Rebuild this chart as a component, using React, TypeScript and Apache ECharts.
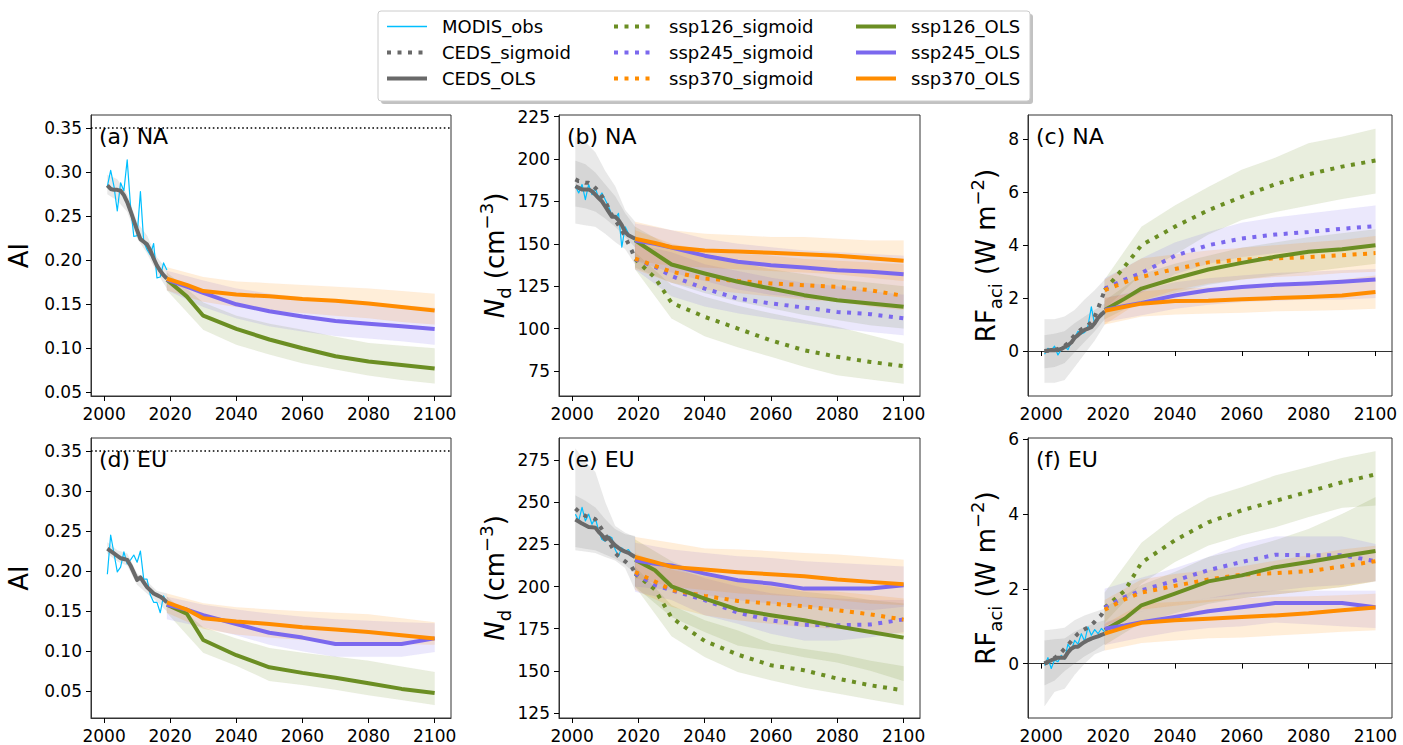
import React, { useEffect, useRef } from 'react';
import * as echarts from 'echarts';

const FONT = 'DejaVu Sans';
const GREEN = '#6B8E23';
const PURPLE = '#7B68EE';
const ORANGE = '#FF8C00';
const GRAY = '#696969';
const BLUE = '#00BFFF';

const X_TICKS = [2000, 2020, 2040, 2060, 2080, 2100];
const AI_TICKS = [0.05, 0.1, 0.15, 0.2, 0.25, 0.3, 0.35];
const B_TICKS = [75, 100, 125, 150, 175, 200, 225];
const C_TICKS = [0, 2, 4, 6, 8];
const E_TICKS = [125, 150, 175, 200, 225, 250, 275];
const F_TICKS = [0, 2, 4, 6];

const OBS_YEARS = [2001, 2002, 2003, 2004, 2005, 2006, 2007, 2008, 2009, 2010, 2011, 2012, 2013, 2014, 2015, 2016, 2017, 2018, 2019];
const CEDS_BAND_YEARS = [2001, 2004, 2007, 2010, 2013, 2016, 2019];
const PROJ_YEARS = [2019, 2025, 2030, 2040, 2050, 2060, 2070, 2080, 2090, 2100];
const BAND_YEARS = [2019, 2030, 2040, 2050, 2060, 2070, 2080, 2090, 2100];

// ---------- (a) NA, AI ----------
const A_MODIS = [0.284, 0.302, 0.284, 0.256, 0.288, 0.279, 0.314, 0.262, 0.227, 0.228, 0.278, 0.221, 0.212, 0.206, 0.219, 0.180, 0.181, 0.197, 0.189];
const A_CEDS_OLS = [0.285, 0.281, 0.280, 0.280, 0.279, 0.274, 0.266, 0.256, 0.245, 0.234, 0.224, 0.221, 0.218, 0.211, 0.202, 0.194, 0.188, 0.183, 0.179];
const A_CEDS_LO = [0.275, 0.268, 0.255, 0.225, 0.208, 0.186, 0.168];
const A_CEDS_HI = [0.297, 0.292, 0.275, 0.243, 0.228, 0.203, 0.190];
const A_OLS126 = [0.178, 0.159, 0.137, 0.122, 0.110, 0.100, 0.091, 0.085, 0.081, 0.077];
const A_OLS245 = [0.178, 0.170, 0.163, 0.150, 0.142, 0.136, 0.131, 0.128, 0.125, 0.122];
const A_OLS370 = [0.179, 0.172, 0.165, 0.161, 0.159, 0.156, 0.154, 0.151, 0.147, 0.143];
const A_B126_LO = [0.166, 0.121, 0.104, 0.093, 0.083, 0.076, 0.069, 0.064, 0.060];
const A_B126_HI = [0.186, 0.152, 0.137, 0.128, 0.121, 0.113, 0.106, 0.103, 0.100];
const A_B245_LO = [0.166, 0.147, 0.134, 0.125, 0.119, 0.114, 0.111, 0.108, 0.104];
const A_B245_HI = [0.188, 0.177, 0.168, 0.162, 0.158, 0.155, 0.152, 0.149, 0.146];
const A_B370_LO = [0.166, 0.153, 0.147, 0.143, 0.140, 0.137, 0.134, 0.130, 0.127];
const A_B370_HI = [0.192, 0.181, 0.176, 0.174, 0.172, 0.170, 0.168, 0.165, 0.162];

// ---------- (d) EU, AI ----------
const D_MODIS = [0.196, 0.245, 0.222, 0.199, 0.205, 0.224, 0.209, 0.214, 0.220, 0.211, 0.225, 0.190, 0.190, 0.170, 0.161, 0.161, 0.148, 0.169, 0.160];
const D_CEDS_OLS = [0.228, 0.225, 0.222, 0.219, 0.216, 0.215, 0.214, 0.207, 0.198, 0.189, 0.192, 0.186, 0.180, 0.176, 0.172, 0.170, 0.168, 0.165, 0.161];
const D_CEDS_LO = [0.222, 0.212, 0.207, 0.183, 0.172, 0.162, 0.150];
const D_CEDS_HI = [0.236, 0.226, 0.222, 0.197, 0.187, 0.175, 0.172];
const D_OLS126 = [0.158, 0.147, 0.114, 0.095, 0.080, 0.073, 0.067, 0.060, 0.053, 0.048];
const D_OLS245 = [0.158, 0.152, 0.145, 0.134, 0.123, 0.117, 0.109, 0.109, 0.109, 0.116];
const D_OLS370 = [0.161, 0.152, 0.141, 0.137, 0.134, 0.130, 0.127, 0.124, 0.120, 0.116];
const D_B126_LO = [0.148, 0.098, 0.082, 0.063, 0.058, 0.052, 0.045, 0.039, 0.033];
const D_B126_HI = [0.168, 0.130, 0.116, 0.104, 0.098, 0.093, 0.088, 0.081, 0.074];
const D_B245_LO = [0.140, 0.130, 0.120, 0.108, 0.100, 0.093, 0.093, 0.093, 0.099];
const D_B245_HI = [0.168, 0.158, 0.152, 0.147, 0.143, 0.140, 0.138, 0.136, 0.135];
const D_B370_LO = [0.148, 0.128, 0.121, 0.117, 0.114, 0.112, 0.110, 0.109, 0.108];
const D_B370_HI = [0.172, 0.160, 0.155, 0.152, 0.150, 0.148, 0.146, 0.141, 0.136];

// ---------- (b) NA, Nd ----------
const B_MODIS = [184, 180, 185, 176, 185, 179, 183, 177, 180, 176, 172, 167, 165, 168, 148, 160, 156, 154, 152];
const B_CEDS_OLS = [184, 183, 182, 182, 182, 181, 179, 177, 175, 172, 169, 166, 166, 164, 161, 157, 155, 154, 153];
const B_CEDS_SIG = [188, 187, 187, 186, 186, 185, 183, 181, 178, 175, 171, 167, 164, 161, 158, 154, 150, 146, 141];
const B_CEDS_SIG_LO = [162, 161, 160, 156, 151, 147, 138];
const B_CEDS_SIG_HI = [213, 210, 204, 193, 184, 170, 163];
const B_CEDS_OLS_LO = [172, 171, 169, 165, 160, 154, 148];
const B_CEDS_OLS_HI = [199, 197, 192, 185, 178, 168, 160];
const B_OLS126 = [152, 144.3, 137.8, 132.5, 127.6, 123.6, 119.7, 116.7, 114.8, 112.8];
const B_OLS245 = [152, 150, 147.8, 143, 139.4, 137.4, 136, 134.4, 133.5, 132];
const B_OLS370 = [153, 150.5, 148, 146, 145.5, 144.7, 143.8, 143, 141.5, 140];
const B_SIG126 = [141, 130, 115.2, 106.9, 100, 93, 87.2, 83.3, 80.3, 77.8];
const B_SIG245 = [141, 136.4, 131, 123.6, 117.7, 114.8, 112.4, 109.8, 108.5, 106];
const B_SIG370 = [141.3, 137, 133.5, 129.5, 128.1, 126.6, 125.6, 124.6, 122.6, 119.3];
const B_BS126_LO = [135, 106, 95.5, 89, 83.3, 77.5, 72.4, 70, 67.5];
const B_BS126_HI = [145, 125.6, 118.7, 113.5, 109, 105, 101, 96, 91];
const B_BO126_LO = [136, 127, 121, 116, 112, 108, 105, 102, 100];
const B_BO126_HI = [160, 148, 143, 139, 135, 132, 129, 127, 125];
const B_BS245_LO = [135, 119, 113, 109, 106, 103, 100, 98, 96];
const B_BS245_HI = [150, 145, 138, 134, 130, 127, 125, 122, 120];
const B_BO245_LO = [140, 133, 128, 123, 120, 118, 117, 115, 113];
const B_BO245_HI = [162, 158, 153, 150, 148, 146, 145, 144, 143];
const B_BS370_LO = [135, 127, 123, 121, 119, 117, 116, 113, 111];
const B_BS370_HI = [158, 150, 146, 144, 143, 141, 140, 139, 138];
const B_BO370_LO = [140, 137, 136, 135, 134, 133, 132, 130, 128];
const B_BO370_HI = [163, 158, 156, 155, 154, 154, 153, 152, 152];

// ---------- (e) EU, Nd ----------
const E_MODIS = [243, 239, 247, 239, 243, 237, 241, 233, 228, 227, 230, 229, 222, 218, 223, 221, 222, 219, 218];
const E_CEDS_OLS = [239.8, 238.6, 237.4, 236.4, 235.4, 235.2, 235, 232.5, 230.5, 228, 229, 226.5, 224.5, 223, 221.6, 220.8, 220, 218.8, 217.6];
const E_CEDS_SIG = [246.3, 244.5, 243, 242, 241.5, 241, 240, 237, 234, 231, 227, 223.5, 220, 218, 216.5, 215, 213.5, 211.7, 208];
const E_CEDS_SIG_LO = [221.6, 220.8, 220, 217.6, 215.5, 211, 198];
const E_CEDS_SIG_HI = [282, 274, 268, 250, 236, 232, 229.5];
const E_CEDS_OLS_LO = [223.5, 222.5, 221.6, 219, 216.5, 213, 207.7];
const E_CEDS_OLS_HI = [254, 251, 247, 240, 234, 231, 230];
const E_OLS126 = [216, 209.7, 200.2, 192.9, 186.3, 183, 180, 176.4, 173.1, 169.7];
const E_OLS245 = [215.6, 213.5, 212.5, 207.7, 203.8, 201.8, 198.8, 198.8, 198.8, 200.8];
const E_OLS370 = [217.6, 214.5, 211.7, 210.1, 208.5, 207.3, 206.1, 204.2, 202.8, 201.4];
const E_SIG126 = [207.7, 198.2, 181.6, 167.7, 159.6, 153.3, 150.3, 145.4, 141.4, 138.4];
const E_SIG245 = [207.7, 201, 197.8, 192, 184.5, 180, 177.3, 177, 177.5, 180.5];
const E_SIG370 = [208.7, 203, 198, 194.5, 191.5, 189.9, 188.3, 186, 183.5, 180.4];
const E_BS126_LO = [200, 170.5, 158.2, 149.3, 144.4, 140, 136.5, 133, 129.5];
const E_BS126_HI = [212, 188.9, 180, 174, 166, 163, 160.2, 156, 152.7];
const E_BO126_LO = [200, 182, 173, 165, 162, 158, 155, 150, 144];
const E_BO126_HI = [228, 215, 207, 203, 200, 197, 195, 192, 190];
const E_BS245_LO = [197, 192, 183, 178, 172, 168, 168, 170, 173];
const E_BS245_HI = [215, 212, 205, 200, 196, 194, 193, 192, 192];
const E_BO245_LO = [200, 198, 195, 192, 190, 188, 187, 186, 188];
const E_BO245_HI = [226, 222, 220, 218, 217, 215, 214, 213, 212];
const E_BS370_LO = [198, 188, 183, 180, 178, 176, 175, 173, 172];
const E_BS370_HI = [220, 210, 206, 203, 201, 199, 197, 195, 193];
const E_BO370_LO = [205, 200, 198, 196, 195, 194, 192, 190, 189];
const E_BO370_HI = [229.5, 226, 222.6, 222, 221, 220, 219, 217.5, 216];

// ---------- (c) NA, RFaci ----------
const C_MODIS = [-0.12, 0.1, 0.03, 0.18, -0.15, 0.06, 0.18, 0.05, 0.33, 0.5, 0.75, 0.65, 0.7, 0.95, 1.67, 1.0, 1.3, 1.45, 1.4];
const C_CEDS_OLS = [0, 0.02, 0.04, 0.03, 0.04, 0.08, 0.15, 0.22, 0.32, 0.5, 0.6, 0.72, 0.8, 0.85, 0.9, 1.05, 1.25, 1.38, 1.5];
const C_CEDS_SIG = [0, 0.01, 0.03, 0.05, 0.08, 0.13, 0.2, 0.3, 0.45, 0.6, 0.72, 0.82, 0.9, 0.98, 1.08, 1.3, 1.6, 1.95, 2.3];
const C_CEDS_SIG_LO = [-1.2, -1.2, -1.1, -0.6, -0.1, 0.4, 1.0];
const C_CEDS_SIG_HI = [1.2, 1.2, 1.3, 1.55, 1.95, 2.3, 2.7];
const C_CEDS_OLS_LO = [-0.65, -0.6, -0.45, -0.05, 0.35, 0.75, 1.2];
const C_CEDS_OLS_HI = [0.6, 0.65, 0.75, 1.05, 1.3, 1.55, 1.8];
const C_OLS126 = [1.55, 1.98, 2.36, 2.74, 3.08, 3.33, 3.56, 3.75, 3.85, 4.0];
const C_OLS245 = [1.55, 1.7, 1.82, 2.1, 2.3, 2.42, 2.5, 2.55, 2.62, 2.7];
const C_OLS370 = [1.52, 1.67, 1.79, 1.89, 1.9, 1.96, 2.0, 2.04, 2.1, 2.23];
const C_SIG126 = [2.3, 3.2, 4.0, 4.7, 5.32, 5.83, 6.3, 6.68, 6.97, 7.2];
const C_SIG245 = [2.35, 2.7, 2.95, 3.6, 4.0, 4.25, 4.4, 4.5, 4.62, 4.72];
const C_SIG370 = [2.3, 2.6, 2.8, 3.1, 3.35, 3.45, 3.5, 3.55, 3.62, 3.7];
const C_BS126_LO = [1.6, 2.9, 3.65, 4.4, 4.95, 5.25, 5.5, 5.75, 5.95];
const C_BS126_HI = [2.7, 4.7, 5.5, 6.2, 6.85, 7.3, 7.85, 8.1, 8.4];
const C_BS245_LO = [1.6, 2.2, 2.9, 3.3, 3.55, 3.7, 3.8, 3.9, 4.0];
const C_BS245_HI = [2.75, 3.5, 4.1, 4.5, 4.85, 5.05, 5.2, 5.35, 5.5];
const C_BS370_LO = [1.0, 1.9, 2.3, 2.55, 2.7, 2.8, 2.85, 2.95, 3.0];
const C_BS370_HI = [2.7, 3.5, 3.65, 3.8, 3.9, 4.0, 4.1, 4.2, 4.35];
const C_BO126_LO = [1.2, 1.9, 2.2, 2.5, 2.7, 2.85, 3.0, 3.15, 3.3];
const C_BO126_HI = [1.9, 2.9, 3.3, 3.6, 3.9, 4.1, 4.3, 4.45, 4.6];
const C_BO245_LO = [1.1, 1.35, 1.6, 1.75, 1.85, 1.9, 1.95, 1.95, 2.0];
const C_BO245_HI = [2.0, 2.3, 2.6, 2.75, 2.85, 2.95, 3.0, 3.05, 3.1];
const C_BO370_LO = [1.0, 1.3, 1.38, 1.42, 1.45, 1.5, 1.52, 1.55, 1.6];
const C_BO370_HI = [2.0, 2.25, 2.35, 2.4, 2.45, 2.5, 2.6, 2.7, 2.85];

// ---------- (f) EU, RFaci ----------
const F_MODIS = [-0.05, 0.16, -0.13, 0.1, 0.05, 0.22, 0.12, 0.52, 0.36, 0.62, 0.52, 0.8, 0.6, 0.98, 0.76, 0.91, 0.8, 0.94, 0.85];
const F_CEDS_OLS = [0, 0.05, 0.09, 0.13, 0.16, 0.16, 0.16, 0.3, 0.4, 0.45, 0.45, 0.52, 0.58, 0.63, 0.67, 0.7, 0.73, 0.77, 0.8];
const F_CEDS_SIG = [0, 0.04, 0.1, 0.15, 0.22, 0.3, 0.4, 0.5, 0.6, 0.71, 0.8, 0.87, 0.92, 0.97, 1.03, 1.12, 1.22, 1.3, 1.47];
const F_CEDS_SIG_LO = [-1.14, -0.75, -0.67, -0.3, 0.0, 0.25, 0.36];
const F_CEDS_SIG_HI = [0.89, 0.92, 0.96, 1.16, 1.29, 1.38, 1.47];
const F_CEDS_OLS_LO = [-0.58, -0.45, -0.2, 0.0, 0.2, 0.35, 0.53];
const F_CEDS_OLS_HI = [0.62, 0.65, 0.67, 0.85, 0.98, 1.08, 1.16];
const F_OLS126 = [0.9, 1.2, 1.56, 1.87, 2.2, 2.36, 2.58, 2.72, 2.87, 3.01];
const F_OLS245 = [0.93, 1.02, 1.11, 1.25, 1.4, 1.51, 1.62, 1.62, 1.62, 1.51];
const F_OLS370 = [0.8, 0.97, 1.09, 1.16, 1.2, 1.25, 1.29, 1.35, 1.43, 1.5];
const F_SIG126 = [1.5, 1.95, 2.7, 3.3, 3.78, 4.1, 4.35, 4.6, 4.85, 5.06];
const F_SIG245 = [1.5, 1.78, 1.96, 2.22, 2.5, 2.72, 2.91, 2.9, 2.9, 2.74];
const F_SIG370 = [1.44, 1.72, 1.9, 2.08, 2.25, 2.38, 2.42, 2.47, 2.6, 2.74];
const F_BS126_LO = [1.1, 2.14, 2.72, 3.16, 3.43, 3.65, 3.92, 4.17, 4.23];
const F_BS126_HI = [1.9, 3.23, 3.92, 4.44, 4.72, 5.03, 5.26, 5.5, 5.68];
const F_BO126_LO = [0.5, 1.1, 1.35, 1.6, 1.75, 1.85, 1.95, 2.05, 2.2];
const F_BO126_HI = [1.5, 2.1, 2.45, 2.85, 3.05, 3.3, 3.6, 4.0, 4.45];
const F_BS245_LO = [1.0, 1.4, 1.6, 1.75, 1.85, 1.95, 2.05, 2.1, 2.2];
const F_BS245_HI = [2.0, 2.3, 2.55, 2.85, 3.2, 3.4, 3.4, 3.4, 3.2];
const F_BO245_LO = [0.5, 0.7, 0.85, 0.95, 1.0, 1.1, 1.05, 1.0, 0.95];
const F_BO245_HI = [1.1, 1.4, 1.6, 1.75, 1.9, 1.95, 1.95, 1.95, 1.95];
const F_BS370_LO = [1.0, 1.45, 1.55, 1.65, 1.75, 1.85, 1.95, 2.05, 2.2];
const F_BS370_HI = [1.7, 2.25, 2.4, 2.5, 2.6, 2.75, 2.9, 3.05, 3.15];
const F_BO370_LO = [0.35, 0.55, 0.62, 0.68, 0.7, 0.75, 0.8, 0.85, 0.89];
const F_BO370_HI = [1.05, 1.6, 1.65, 1.7, 1.75, 1.78, 1.8, 1.83, 1.87];

const AI_NAME = 'AI';
const ND_NAME = '{i|N}{s|d} (cm{p|\u22123})';
const RF_NAME = 'RF{s|aci} (W m{p|\u22122})';

type Band = { years: number[]; lo: number[]; hi: number[]; color: string };
type Panel = {
  grid: { left: number; top: number; width: number; height: number };
  ymin: number; ymax: number; yticks: number[]; dec: number;
  name: string; nameGap: number; title: string; hline: boolean;
  modis: number[]; cedsOls: number[]; cedsSig?: number[];
  ols: number[][]; sig?: number[][];
  bands: Band[];
};

const cb = (lo: number[], hi: number[]): Band => ({ years: CEDS_BAND_YEARS, lo, hi, color: GRAY });
const pb = (lo: number[], hi: number[], color: string): Band => ({ years: BAND_YEARS, lo, hi, color });

const PANELS: Panel[] = [
  {
    grid: { left: 91, top: 115, width: 360, height: 281 }, ymin: 0.0458, ymax: 0.365, yticks: AI_TICKS, dec: 2,
    name: AI_NAME, nameGap: 54, title: '(a) NA', hline: true,
    modis: A_MODIS, cedsOls: A_CEDS_OLS, ols: [A_OLS126, A_OLS245, A_OLS370],
    bands: [cb(A_CEDS_LO, A_CEDS_HI), pb(A_B126_LO, A_B126_HI, GREEN), pb(A_B245_LO, A_B245_HI, PURPLE), pb(A_B370_LO, A_B370_HI, ORANGE)],
  },
  {
    grid: { left: 559, top: 115, width: 361, height: 281 }, ymin: 60.2, ymax: 226, yticks: B_TICKS, dec: 0,
    name: ND_NAME, nameGap: 46, title: '(b) NA', hline: false,
    modis: B_MODIS, cedsOls: B_CEDS_OLS, cedsSig: B_CEDS_SIG,
    ols: [B_OLS126, B_OLS245, B_OLS370], sig: [B_SIG126, B_SIG245, B_SIG370],
    bands: [cb(B_CEDS_SIG_LO, B_CEDS_SIG_HI), cb(B_CEDS_OLS_LO, B_CEDS_OLS_HI),
      pb(B_BS126_LO, B_BS126_HI, GREEN), pb(B_BO126_LO, B_BO126_HI, GREEN),
      pb(B_BS245_LO, B_BS245_HI, PURPLE), pb(B_BO245_LO, B_BO245_HI, PURPLE),
      pb(B_BS370_LO, B_BS370_HI, ORANGE), pb(B_BO370_LO, B_BO370_HI, ORANGE)],
  },
  {
    grid: { left: 1028, top: 115, width: 364, height: 281 }, ymin: -1.7, ymax: 8.92, yticks: C_TICKS, dec: 0,
    name: RF_NAME, nameGap: 22, title: '(c) NA', hline: false,
    modis: C_MODIS, cedsOls: C_CEDS_OLS, cedsSig: C_CEDS_SIG,
    ols: [C_OLS126, C_OLS245, C_OLS370], sig: [C_SIG126, C_SIG245, C_SIG370],
    bands: [cb(C_CEDS_SIG_LO, C_CEDS_SIG_HI), cb(C_CEDS_OLS_LO, C_CEDS_OLS_HI),
      pb(C_BS126_LO, C_BS126_HI, GREEN), pb(C_BO126_LO, C_BO126_HI, GREEN),
      pb(C_BS245_LO, C_BS245_HI, PURPLE), pb(C_BO245_LO, C_BO245_HI, PURPLE),
      pb(C_BS370_LO, C_BS370_HI, ORANGE), pb(C_BO370_LO, C_BO370_HI, ORANGE)],
  },
  {
    grid: { left: 91, top: 438, width: 360, height: 280 }, ymin: 0.0167, ymax: 0.366, yticks: AI_TICKS, dec: 2,
    name: AI_NAME, nameGap: 54, title: '(d) EU', hline: true,
    modis: D_MODIS, cedsOls: D_CEDS_OLS, ols: [D_OLS126, D_OLS245, D_OLS370],
    bands: [cb(D_CEDS_LO, D_CEDS_HI), pb(D_B126_LO, D_B126_HI, GREEN), pb(D_B245_LO, D_B245_HI, PURPLE), pb(D_B370_LO, D_B370_HI, ORANGE)],
  },
  {
    grid: { left: 559, top: 438, width: 361, height: 280 }, ymin: 122, ymax: 288.2, yticks: E_TICKS, dec: 0,
    name: ND_NAME, nameGap: 46, title: '(e) EU', hline: false,
    modis: E_MODIS, cedsOls: E_CEDS_OLS, cedsSig: E_CEDS_SIG,
    ols: [E_OLS126, E_OLS245, E_OLS370], sig: [E_SIG126, E_SIG245, E_SIG370],
    bands: [cb(E_CEDS_SIG_LO, E_CEDS_SIG_HI), cb(E_CEDS_OLS_LO, E_CEDS_OLS_HI),
      pb(E_BS126_LO, E_BS126_HI, GREEN), pb(E_BO126_LO, E_BO126_HI, GREEN),
      pb(E_BS245_LO, E_BS245_HI, PURPLE), pb(E_BO245_LO, E_BO245_HI, PURPLE),
      pb(E_BS370_LO, E_BS370_HI, ORANGE), pb(E_BO370_LO, E_BO370_HI, ORANGE)],
  },
  {
    grid: { left: 1028, top: 438, width: 364, height: 280 }, ymin: -1.455, ymax: 6.035, yticks: F_TICKS, dec: 0,
    name: RF_NAME, nameGap: 22, title: '(f) EU', hline: false,
    modis: F_MODIS, cedsOls: F_CEDS_OLS, cedsSig: F_CEDS_SIG,
    ols: [F_OLS126, F_OLS245, F_OLS370], sig: [F_SIG126, F_SIG245, F_SIG370],
    bands: [cb(F_CEDS_SIG_LO, F_CEDS_SIG_HI), cb(F_CEDS_OLS_LO, F_CEDS_OLS_HI),
      pb(F_BS126_LO, F_BS126_HI, GREEN), pb(F_BO126_LO, F_BO126_HI, GREEN),
      pb(F_BS245_LO, F_BS245_HI, PURPLE), pb(F_BO245_LO, F_BO245_HI, PURPLE),
      pb(F_BS370_LO, F_BS370_HI, ORANGE), pb(F_BO370_LO, F_BO370_HI, ORANGE)],
  },
];

const SCEN_COLORS = [GREEN, PURPLE, ORANGE];
const OLS_NAMES = ['ssp126_OLS', 'ssp245_OLS', 'ssp370_OLS'];
const SIG_NAMES = ['ssp126_sigmoid', 'ssp245_sigmoid', 'ssp370_sigmoid'];
const DOT: number[] = [4, 6.5];

function lineSeries(name: string, gi: number, xs: number[], ys: number[], color: string, width: number, dotted: boolean, z: number) {
  return {
    name, type: 'line', xAxisIndex: gi, yAxisIndex: gi,
    data: xs.map((x, i) => [x, ys[i]]),
    symbol: 'none', showSymbol: false, silent: true, z,
    lineStyle: { color, width, type: dotted ? DOT : 'solid', cap: 'butt', join: 'round' },
    itemStyle: { color },
  };
}

function bandSeries(gi: number, band: Band) {
  const data = band.years.map((y, i) => [y, band.lo[i], band.hi[i]]);
  return {
    type: 'custom', xAxisIndex: gi, yAxisIndex: gi, silent: true, z: 1,
    data, encode: { x: 0, y: [1, 2] },
    renderItem: (params: any, api: any) => {
      if (params.dataIndex !== 0) return null;
      const upper = data.map((d) => api.coord([d[0], d[2]]));
      const lower = data.map((d) => api.coord([d[0], d[1]])).reverse();
      return {
        type: 'polygon', silent: true,
        shape: { points: upper.concat(lower) },
        style: { fill: band.color, opacity: 0.15, stroke: band.color, lineWidth: 0.6, strokeOpacity: 0.2 },
      };
    },
  };
}

const legItem = (name: string, color: string, width: number, dotted: boolean) => ({
  name,
  lineStyle: { color, width, type: dotted ? DOT : 'solid', cap: 'butt', opacity: 1 },
  itemStyle: { opacity: 0 },
});

function buildOption() {
  const grids: any[] = [];
  const xAxes: any[] = [];
  const yAxes: any[] = [];
  const series: any[] = [];
  const titles: any[] = [];
  const axisCol = '#333';
  PANELS.forEach((p, gi) => {
    grids.push({ ...p.grid, show: true, borderColor: axisCol, borderWidth: 1, containLabel: false });
    xAxes.push({
      type: 'value', gridIndex: gi, min: 1996.05, max: 2104.95,
      axisLine: { show: true, lineStyle: { color: axisCol, width: 1 } },
      axisTick: { show: true, length: 5, lineStyle: { color: '#000' }, customValues: X_TICKS },
      axisLabel: { customValues: X_TICKS, fontSize: 17, fontFamily: FONT, color: '#000', margin: 9, formatter: (v: number) => String(v) },
      splitLine: { show: false },
    });
    yAxes.push({
      type: 'value', gridIndex: gi, min: p.ymin, max: p.ymax,
      name: p.name, nameLocation: 'middle', nameRotate: 90, nameGap: p.nameGap,
      nameTextStyle: {
        fontSize: 26, fontFamily: FONT, color: '#000', lineHeight: 36,
        rich: {
          i: { fontSize: 26, fontStyle: 'italic', fontFamily: FONT, color: '#000', lineHeight: 36 },
          s: { fontSize: 18, fontFamily: FONT, color: '#000', lineHeight: 18, verticalAlign: 'bottom' },
          p: { fontSize: 18, fontFamily: FONT, color: '#000', lineHeight: 18, verticalAlign: 'top' },
        },
      },
      axisLine: { show: true, lineStyle: { color: axisCol, width: 1 } },
      axisTick: { show: true, length: 5, lineStyle: { color: '#000' }, customValues: p.yticks },
      axisLabel: { customValues: p.yticks, fontSize: 17, fontFamily: FONT, color: '#000', margin: 9,
        formatter: (v: number) => v.toFixed(p.dec) },
      splitLine: { show: false },
    });
    titles.push({
      text: p.title, left: p.grid.left + 8, top: p.grid.top + 10, padding: 0,
      textStyle: { fontSize: 22, fontWeight: 'normal', fontFamily: FONT, color: '#000' },
    });
    p.bands.forEach((b) => series.push(bandSeries(gi, b)));
    const modis: any = lineSeries('MODIS_obs', gi, OBS_YEARS, p.modis, BLUE, 1.2, false, 2);
    if (p.hline) {
      modis.markLine = {
        silent: true, symbol: ['none', 'none'], label: { show: false },
        lineStyle: { color: '#000', width: 1.6, type: [1.6, 2.6] },
        data: [{ yAxis: 0.35 }],
      };
    }
    series.push(modis);
    if (p.cedsSig) series.push(lineSeries('CEDS_sigmoid', gi, OBS_YEARS, p.cedsSig, GRAY, 4, true, 3));
    series.push(lineSeries('CEDS_OLS', gi, OBS_YEARS, p.cedsOls, GRAY, 4, false, 3));
    if (p.sig) p.sig.forEach((ys, k) => series.push(lineSeries(SIG_NAMES[k], gi, PROJ_YEARS, ys, SCEN_COLORS[k], 4, true, 4)));
    p.ols.forEach((ys, k) => series.push(lineSeries(OLS_NAMES[k], gi, PROJ_YEARS, ys, SCEN_COLORS[k], 4, false, 5)));
  });

  const legendBase = {
    orient: 'vertical', top: 17.5, itemWidth: 40, itemHeight: 20, itemGap: 8, padding: 0,
    selectedMode: false, z: 10,
    itemStyle: { opacity: 0 },
    textStyle: { fontSize: 18, fontFamily: FONT, color: '#000', padding: [0, 0, 0, 10] },
  };
  const legends = [
    { ...legendBase, left: 385, data: [legItem('MODIS_obs', BLUE, 1.5, false), legItem('CEDS_sigmoid', GRAY, 4, true), legItem('CEDS_OLS', GRAY, 4, false)] },
    { ...legendBase, left: 612, data: SIG_NAMES.map((n, k) => legItem(n, SCEN_COLORS[k], 4, true)) },
    { ...legendBase, left: 854, data: OLS_NAMES.map((n, k) => legItem(n, SCEN_COLORS[k], 4, false)) },
  ];

  return {
    animation: false,
    backgroundColor: '#fff',
    title: titles,
    grid: grids,
    xAxis: xAxes,
    yAxis: yAxes,
    legend: legends,
    graphic: [
      { type: 'rect', z: 0, silent: true, shape: { x: 381, y: 14, width: 652, height: 90, r: 3 }, style: { fill: '#9a9a9a', opacity: 0.6 } },
      { type: 'rect', z: 1, silent: true, shape: { x: 378, y: 11, width: 652, height: 90, r: 3 }, style: { fill: '#fff', stroke: '#cccccc', lineWidth: 1 } },
    ],
    series,
  };
}

export default function App() {
  const ref = useRef<HTMLDivElement>(null);
  useEffect(() => {
    document.body.style.margin = '0';
    const chart = echarts.init(ref.current as HTMLDivElement, null, { renderer: 'svg' });
    chart.setOption(buildOption() as any);
    return () => chart.dispose();
  }, []);
  return <div ref={ref} style={{ width: 1403, height: 745 }} />;
}
